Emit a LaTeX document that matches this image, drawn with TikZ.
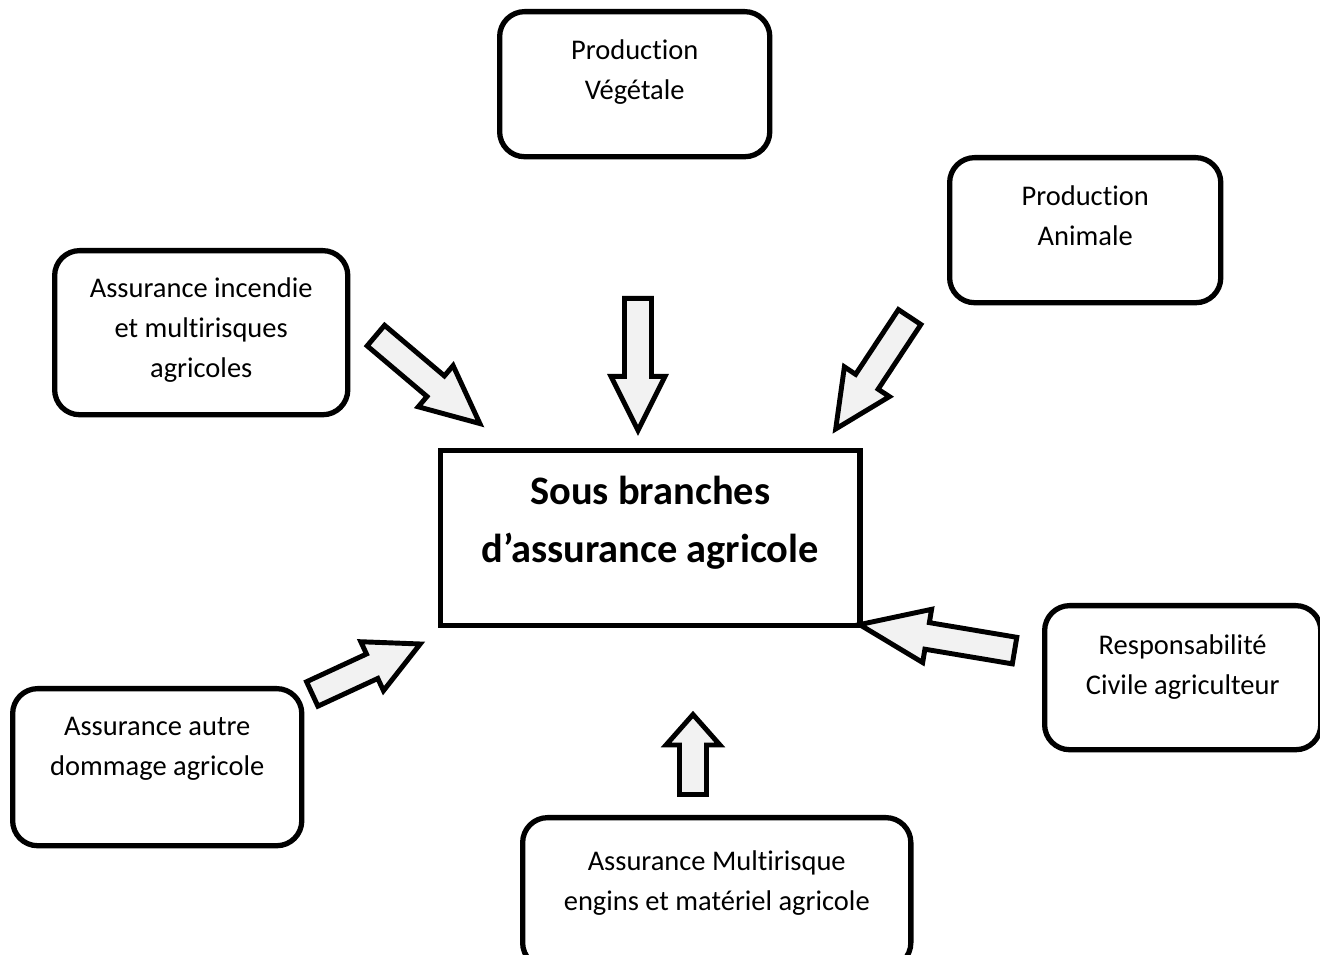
\documentclass[tikz,border=0pt]{standalone}
\usepackage{fontspec}
\setmainfont[Ligatures={CommonOff,ContextualOff,RareOff}]{Carlito}
\usepackage{tikz}
\usetikzlibrary{shapes.arrows, calc}
\definecolor{grisclair}{HTML}{F2F2F2}
\tikzstyle{boite} = [draw, line width=1.5pt, rounded corners=2.5mm, align=flush center, inner sep=0pt, anchor=north west, font=\fontsize{8.1}{11.4}\selectfont]
\tikzstyle{centre} = [boite, sharp corners, font=\fontsize{11.5}{16.5}\selectfont\bfseries]
\tikzstyle{grosse} = [single arrow, draw, fill=grisclair, line width=1.4pt, inner xsep=0pt, inner ysep=1.1mm, single arrow head extend=1.35mm, anchor=tail]
\newcommand{\grossefleche}[3][52]{%
	\path let \p1 = ($(#3)-(#2)$), \n1 = {veclen(\x1,\y1)}, \n2 = {atan2(\y1,\x1)} in
		node[grosse, minimum height=\n1, rotate=\n2, single arrow tip angle=#1] at (#2) {};}

\begin{document}
\begin{tikzpicture}[x=0.01cm, y=-0.01cm]
	\useasboundingbox (0,0) rectangle (1320,955);

	\node[centre, text width=41.9mm, text height=5.4mm, text depth=12.1mm] (SB) at (438,448) {Sous branches\\d’assurance agricole};

	\node[boite, text width=27mm, text height=4.8mm, text depth=9.7mm] (PV) at (497,9) {Production\\Végétale};
	\node[boite, text width=27.1mm, text height=4.8mm, text depth=9.7mm] (PA) at (947,155) {Production\\Animale};
	\node[boite, text width=29.3mm, text height=4.7mm, text depth=11.7mm] (AI) at (52,248) {Assurance incendie\\et multirisques\\agricoles};
	\node[boite, text width=27.6mm, text height=4.9mm, text depth=9.5mm] (RC) at (1042,603) {Responsabilité\\Civile agriculteur};
	\node[boite, text width=28.9mm, text height=4.7mm, text depth=11mm] (AA) at (10,686) {Assurance autre\\dommage agricole};
	\node[boite, text width=38.8mm, text height=5.3mm, text depth=9.7mm] (AM) at (520,815) {Assurance Multirisque\\engins et matériel agricole};

	% grosses fleches vers le centre
	\coordinate (f1a) at (374,334); \coordinate (f1b) at (478,422);
	\coordinate (f2a) at (638,296); \coordinate (f2b) at (638,428);
	\coordinate (f3a) at (911,315); \coordinate (f3b) at (837,427);
	\coordinate (f4a) at (1017,651); \coordinate (f4b) at (862,625);
	\coordinate (f5a) at (693,797); \coordinate (f5b) at (693,717);
	\coordinate (f6a) at (310,695); \coordinate (f6b) at (418,645);

	\grossefleche[50]{f1a}{f1b}
	\grossefleche[53]{f2a}{f2b}
	\grossefleche[51]{f3a}{f3b}
	\grossefleche[43]{f4a}{f4b}
	\grossefleche[83]{f5a}{f5b}
	\grossefleche[54]{f6a}{f6b}

\end{tikzpicture}
\end{document}
